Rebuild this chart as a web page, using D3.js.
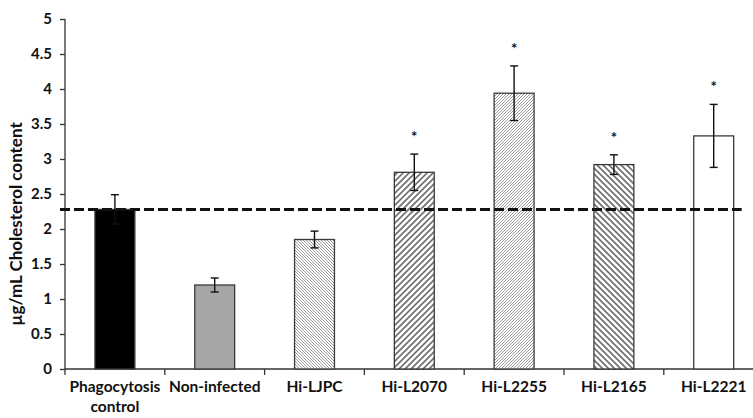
<!DOCTYPE html>
<meta charset="utf-8">
<html>
  <head>
    <script src="https://cdn.jsdelivr.net/npm/d3@7"></script>
    <style>
      body { margin: 0; background: #fff; }
      text { font-family: Lato, "Open Sans", sans-serif; font-weight: bold; fill: #111; }
    </style>
  </head>
  <body>
    <div id="chart"></div>

    <script type="text/javascript">
      var categories = ["Phagocytosis\ncontrol", "Non-infected", "Hi-LJPC", "Hi-L2070", "Hi-L2255", "Hi-L2165", "Hi-L2221"],
          means = [2.28, 1.2, 1.85, 2.81, 3.94, 2.92, 3.33],
          errors = [0.21, 0.1, 0.12, 0.26, 0.39, 0.14, 0.45],
          significant = [false, false, false, true, true, true, true],
          fills = ["#000000", "#a6a6a6", "url(#fineBack)", "url(#coarseFwd)", "url(#fineFwd)", "url(#coarseBack)", "#ffffff"],
          yTicks = [0, 0.5, 1, 1.5, 2, 2.5, 3, 3.5, 4, 4.5, 5],
          controlLevel = 2.28;

      var width = 753, height = 418,
          margin = { top: 19, left: 65, bottom: 49 },
          plotBottom = height - margin.bottom;

      var svg = d3.select("#chart").append("svg")
          .attr("width", width)
          .attr("height", height);

      // hatch patterns for the bars
      var defs = svg.append("defs");
      function hatch(id, size, dir, color, sw) {
        var p = defs.append("pattern")
            .attr("id", id)
            .attr("patternUnits", "userSpaceOnUse")
            .attr("width", size).attr("height", size);
        p.append("rect").attr("width", size).attr("height", size).attr("fill", "#fff");
        var d = dir > 0
          ? "M0," + size + " L" + size + ",0 M-1,1 L1,-1 M" + (size - 1) + "," + (size + 1) + " L" + (size + 1) + "," + (size - 1)
          : "M0,0 L" + size + "," + size + " M-1," + (size - 1) + " L1," + (size + 1) + " M" + (size - 1) + ",-1 L" + (size + 1) + ",1";
        p.append("path").attr("d", d).attr("stroke", color).attr("stroke-width", sw);
      }
      hatch("fineBack", 3, -1, "#9a9a9a", 1);
      hatch("fineFwd", 3, 1, "#9a9a9a", 1);
      hatch("coarseFwd", 6, 1, "#6e6e6e", 1.6);
      hatch("coarseBack", 6, -1, "#6e6e6e", 1.6);

      var x = d3.scaleBand()
          .domain(categories)
          .range([margin.left, margin.left + 7 * 99.8])
          .paddingInner(0.6)
          .paddingOuter(0.3);

      var y = d3.scaleLinear()
          .domain([0, 5])
          .range([plotBottom, margin.top]);

      // y axis
      var yAxis = svg.append("g")
          .attr("transform", "translate(" + margin.left + ",0)")
          .call(d3.axisLeft(y).tickValues(yTicks).tickSize(5).tickPadding(8).tickFormat(d3.format("")));
      yAxis.selectAll("path, line").attr("stroke", "#333").attr("stroke-width", 1.3);
      yAxis.select(".domain").attr("d", "M0," + margin.top + "V" + plotBottom);
      yAxis.selectAll("text").style("font-size", "15px").attr("fill", "#111");

      // x axis line and boundary ticks
      svg.append("line")
          .attr("x1", margin.left).attr("x2", width)
          .attr("y1", plotBottom).attr("y2", plotBottom)
          .attr("stroke", "#333").attr("stroke-width", 1.3);
      svg.selectAll(".xtick")
          .data(categories)
          .enter().append("line")
          .attr("x1", function(d){ return x(d) - x.step() * 0.3; })
          .attr("x2", function(d){ return x(d) - x.step() * 0.3; })
          .attr("y1", plotBottom).attr("y2", plotBottom + 6)
          .attr("stroke", "#333").attr("stroke-width", 1.3);

      var xLabels = svg.selectAll(".xlabel")
          .data(categories)
          .enter().append("text")
          .attr("text-anchor", "middle")
          .style("font-size", "15.5px")
          .attr("transform", function(d){ return "translate(" + (x(d) + x.bandwidth() / 2) + "," + (plotBottom + 23) + ")"; });
      xLabels.selectAll("tspan")
          .data(function(d){ return d.split("\n"); })
          .enter().append("tspan")
          .attr("x", 0)
          .attr("dy", function(d, i){ return i ? 20 : 0; })
          .text(function(d){ return d; });

      // y axis title
      svg.append("text")
          .attr("transform", "translate(22," + (margin.top + 205) + ") rotate(-90)")
          .attr("text-anchor", "middle")
          .style("font-size", "17px")
          .text("µg/mL Cholesterol content");

      var data = categories.map(function(c, i){
        return { cat: c, mean: means[i], err: errors[i], sig: significant[i], fill: fills[i] };
      });

      // bars
      svg.selectAll(".bar")
          .data(data)
          .enter().append("rect")
          .attr("x", function(d){ return x(d.cat); })
          .attr("width", x.bandwidth())
          .attr("y", function(d){ return y(d.mean); })
          .attr("height", function(d){ return y(0) - y(d.mean); })
          .attr("fill", function(d){ return d.fill; })
          .attr("stroke", "#3a3a3a")
          .attr("stroke-width", 1.3);

      // error bars
      var eb = svg.selectAll(".err")
          .data(data)
          .enter().append("g")
          .attr("transform", function(d){ return "translate(" + (x(d.cat) + x.bandwidth() / 2) + ",0)"; })
          .attr("stroke", "#111")
          .attr("stroke-width", 1.4);
      eb.append("line")
          .attr("y1", function(d){ return y(d.mean + d.err); })
          .attr("y2", function(d){ return y(d.mean - d.err); });
      eb.append("line")
          .attr("x1", -4).attr("x2", 4)
          .attr("y1", function(d){ return y(d.mean + d.err); })
          .attr("y2", function(d){ return y(d.mean + d.err); });
      eb.append("line")
          .attr("x1", -4).attr("x2", 4)
          .attr("y1", function(d){ return y(d.mean - d.err); })
          .attr("y2", function(d){ return y(d.mean - d.err); });

      // significance stars
      svg.selectAll(".star")
          .data(data.filter(function(d){ return d.sig; }))
          .enter().append("text")
          .attr("text-anchor", "middle")
          .style("font-size", "15px")
          .attr("fill", "#333")
          .attr("x", function(d){ return x(d.cat) + x.bandwidth() / 2; })
          .attr("y", function(d){ return y(d.mean + d.err) - 12; })
          .text("*");

      // dashed control level
      svg.append("line")
          .attr("x1", margin.left - 5)
          .attr("x2", x(categories[6]) + x.bandwidth() + 8)
          .attr("y1", y(controlLevel)).attr("y2", y(controlLevel))
          .attr("stroke", "#111")
          .attr("stroke-width", 3)
          .attr("stroke-dasharray", "10,4");
    </script>
  </body>
</html>
